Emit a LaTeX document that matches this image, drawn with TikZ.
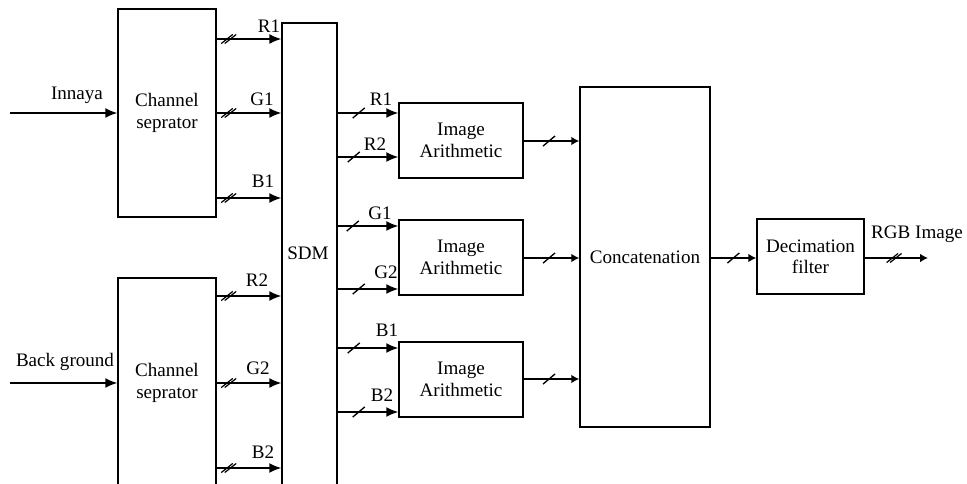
\documentclass[tikz,border=0pt]{standalone}
\usepackage{fontspec}
\setmainfont{Liberation Serif}
\usetikzlibrary{arrows.meta,decorations.markings}
\tikzset{
  blk/.style={draw, line width=1.1pt, align=center, inner sep=0pt, font=\fontsize{14.3}{16}\selectfont},
  lbl/.style={anchor=base, inner sep=0pt, font=\fontsize{14.3}{16}\selectfont},
  sig/.style={line width=1.1pt, -{Latex[length=9pt,width=7.5pt]}},
  sigs/.style={line width=1.1pt, -{Latex[length=6pt,width=6.5pt]}},
  one/.style={postaction={decorate,decoration={markings,mark=at position #1 with {\draw[-,line width=1pt] (-4.5pt,-3.8pt)--(4.5pt,3.8pt);}}}},
  two/.style={postaction={decorate,decoration={markings,mark=at position #1 with {\draw[-,line width=0.9pt] (-5.6pt,-3.4pt)--(3pt,3.4pt) (-3pt,-3.4pt)--(5.6pt,3.4pt);}}}},
}
\begin{document}
\begin{tikzpicture}[x=0.75pt,y=-0.75pt]
\useasboundingbox (0,0) rectangle (967,484);
\clip (0,0) rectangle (967,484);
% blocks
\node[blk, minimum width=73.5pt, minimum height=156pt] (ch1) at (167,113) {Channel\\seprator};
\node[blk, minimum width=73.5pt, minimum height=157.5pt] (ch2) at (167,383) {Channel\\seprator};
\node[blk, minimum width=41.25pt, minimum height=348pt] (sdm) at (309.5,255) {};
\node[lbl] at (308,260) {SDM};
\node[blk, minimum width=93pt, minimum height=56.25pt] (ia1) at (461,140.5) {Image\\Arithmetic};
\node[blk, minimum width=93pt, minimum height=56.25pt] (ia2) at (461,257.5) {Image\\Arithmetic};
\node[blk, minimum width=93pt, minimum height=56.25pt] (ia3) at (461,379.5) {Image\\Arithmetic};
\node[blk, minimum width=97.5pt, minimum height=255pt] (cat) at (645,257) {Concatenation};
\node[blk, minimum width=80.25pt, minimum height=56.25pt] (dec) at (810.5,256.5) {Decimation\\filter};
% inputs
\coordinate (in1) at (10,113);
\coordinate (in2) at (10,383);
\draw[sig] (in1) -- (ch1.west |- in1);
\draw[sig] (in2) -- (ch2.west |- in2);
\node[lbl] at (77,100) {Innaya};
\node[lbl] at (65,367) {Back ground};
% channel separators to SDM
\foreach \y in {39,113,198}{
  \draw[sig, two=9pt] (ch1.east |- 0,\y) -- (sdm.west |- 0,\y);
}
\foreach \y in {296,383,468}{
  \draw[sig, two=9pt] (ch2.east |- 0,\y) -- (sdm.west |- 0,\y);
}
\node[lbl] at (269,33) {R1};
\node[lbl] at (262,106) {G1};
\node[lbl] at (263,188) {B1};
\node[lbl] at (257,287) {R2};
\node[lbl] at (258,375) {G2};
\node[lbl] at (263,458) {B2};
% SDM to image arithmetic
\draw[sig, one=15.75pt] (sdm.east |- 0,113) -- (ia1.west |- 0,113);
\draw[sig, one=12pt] (sdm.east |- 0,157) -- (ia1.west |- 0,157);
\draw[sig, one=11.25pt] (sdm.east |- 0,226) -- (ia2.west |- 0,226);
\draw[sig, one=15.75pt] (sdm.east |- 0,289) -- (ia2.west |- 0,289);
\draw[sig, one=12pt] (sdm.east |- 0,348) -- (ia3.west |- 0,348);
\draw[sig, one=15.75pt] (sdm.east |- 0,412) -- (ia3.west |- 0,412);
\node[lbl] at (381,106) {R1};
\node[lbl] at (375,151) {R2};
\node[lbl] at (380,220) {G1};
\node[lbl] at (386,279) {G2};
\node[lbl] at (387,337) {B1};
\node[lbl] at (382,402) {B2};
% image arithmetic to concatenation
\draw[sigs, one=19pt] (ia1.east |- 0,141) -- (cat.west |- 0,141);
\draw[sigs, one=19pt] (ia2.east |- 0,258) -- (cat.west |- 0,258);
\draw[sigs, one=19pt] (ia3.east |- 0,379) -- (cat.west |- 0,379);
% concatenation to decimation
\draw[sigs, one=17pt] (cat.east |- 0,258) -- (dec.west |- 0,258);
% output
\coordinate (out) at (928,258);
\draw[sigs, two=22pt] (dec.east |- out) -- (out);
\node[lbl] at (917,239) {RGB Image};
\end{tikzpicture}
\end{document}
